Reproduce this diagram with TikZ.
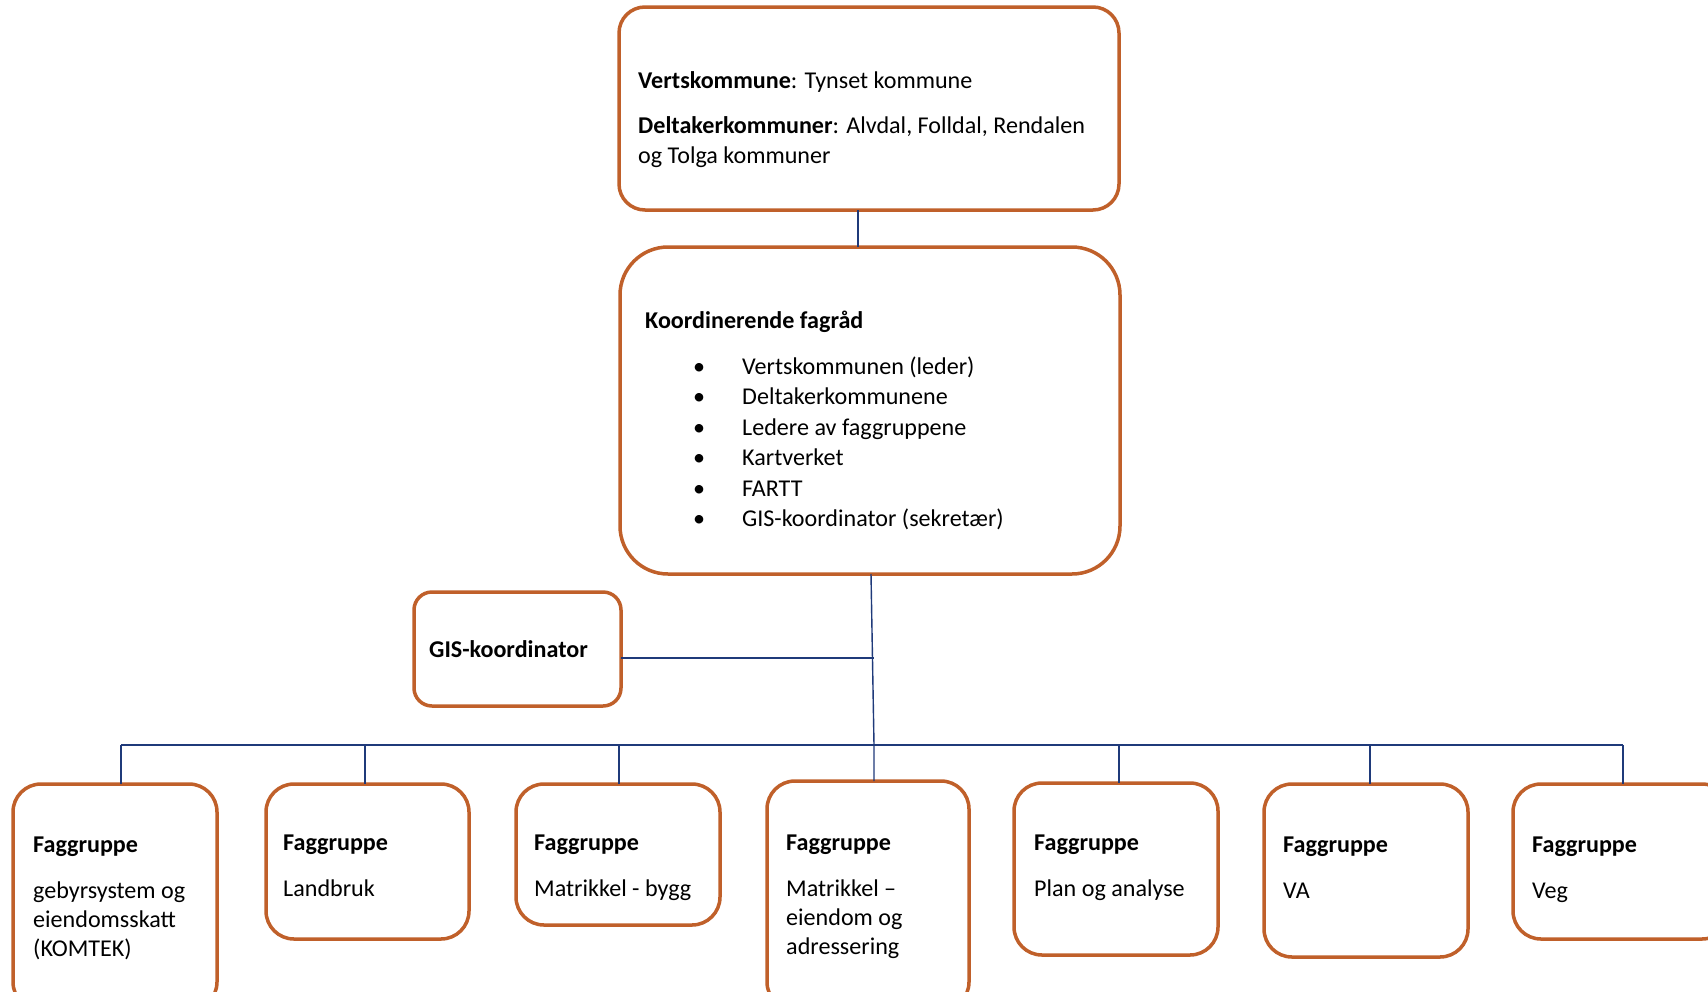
\documentclass[tikz,border=0pt]{standalone}
\usepackage{fontspec}
\setmainfont{Carlito}
\definecolor{boxc}{HTML}{C0602A}
\definecolor{linec}{HTML}{1F3A7A}
\begin{document}
\begin{tikzpicture}[x=1pt,y=-1pt,
  orgbox/.style={draw=boxc,line width=3.5pt,rounded corners=#1,fill=none},
  orgbox/.default=24pt,
  txt/.style={anchor=base west,inner sep=0pt,font=\fontsize{24.1}{29}\selectfont},
  conn/.style={draw=linec,line width=1.4pt}]
\useasboundingbox (0,0) rectangle (1708,991);
\clip (0,0) rectangle (1708,991);
\fill[white] (0,0) rectangle (1708,991);
% top box
\draw[orgbox=26pt] (619,7) rectangle (1119,210);
\node[txt] (t1) at (638,88) {\textbf{Vertskommune}: Tynset kommune};
\node[txt] (t2) at (638,133) {\textbf{Deltakerkommuner}: Alvdal, Folldal, Rendalen};
\node[txt] (t3) at (638,163) {og Tolga kommuner};
\coordinate (topS) at (858,210);
% box 2
\draw[orgbox=48pt] (620,247) rectangle (1120,574);
\coordinate (b2N) at (858,247);
\node[txt] (k0) at (645,328) {\textbf{Koordinerende fagråd}};
\foreach \y/\t [count=\i] in {374/Vertskommunen (leder),404/Deltakerkommunene,435/Ledere av faggruppene,465/Kartverket,496/FARTT,526/GIS-koordinator (sekretær)}{
  \node[txt] (kb\i) at (693,\y) {\textbullet};
  \node[txt] (k\i) at (742,\y) {\t};
}
\coordinate (b2S) at (871,574);
% GIS box
\draw[orgbox=18pt] (414,592) rectangle (621,706);
\node[txt] (g) at (429,657) {\textbf{GIS-koordinator}};
\coordinate (gE) at (621,658);
% bus
\coordinate (mid) at (873.5,658);
\coordinate (busM) at (874,745);
\coordinate (busL) at (121,745);
\coordinate (busR) at (1623,745);
% bottom boxes
\draw[orgbox=28pt] (13,784) rectangle (217,1010);
\draw[orgbox=28pt] (266,784) rectangle (469,939);
\draw[orgbox=28pt] (516,784) rectangle (720,925);
\draw[orgbox=28pt] (767,781) rectangle (969,1010);
\draw[orgbox=28pt] (1014,783) rectangle (1218,955);
\draw[orgbox=28pt] (1264,784) rectangle (1468,957);
\draw[orgbox=28pt] (1513,784) rectangle (1730,939);
\node[txt] (f1) at (33,852) {\textbf{Faggruppe}};
\node[txt] (f1a) at (33,898) {gebyrsystem og};
\node[txt] (f1b) at (33,927) {eiendomsskatt};
\node[txt] (f1c) at (33,956) {(KOMTEK)};
\node[txt] (f2) at (283,850) {\textbf{Faggruppe}};
\node[txt] (f2a) at (283,896) {Landbruk};
\node[txt] (f3) at (534,850) {\textbf{Faggruppe}};
\node[txt] (f3a) at (534,896) {Matrikkel - bygg};
\node[txt] (f4) at (786,850) {\textbf{Faggruppe}};
\node[txt] (f4a) at (786,896) {Matrikkel –};
\node[txt] (f4b) at (786,925) {eiendom og};
\node[txt] (f4c) at (786,954) {adressering};
\node[txt] (f5) at (1034,850) {\textbf{Faggruppe}};
\node[txt] (f5a) at (1034,896) {Plan og analyse};
\node[txt] (f6) at (1283,852) {\textbf{Faggruppe}};
\node[txt] (f6a) at (1283,898) {VA};
\node[txt] (f7) at (1532,852) {\textbf{Faggruppe}};
\node[txt] (f7a) at (1532,898) {Veg};
% connectors
\draw[conn] (topS) -- (b2N);
\draw[conn] (b2S) -- (busM) -- (874,781);
\draw[conn] (gE) -- (mid);
\draw[conn] (busL) -- (busR);
\foreach \x/\yy in {121/784,365/784,619/784,1119/783,1370/784,1623/784}{
  \draw[conn] (\x,745) -- (\x,\yy);
}
\end{tikzpicture}
\end{document}
